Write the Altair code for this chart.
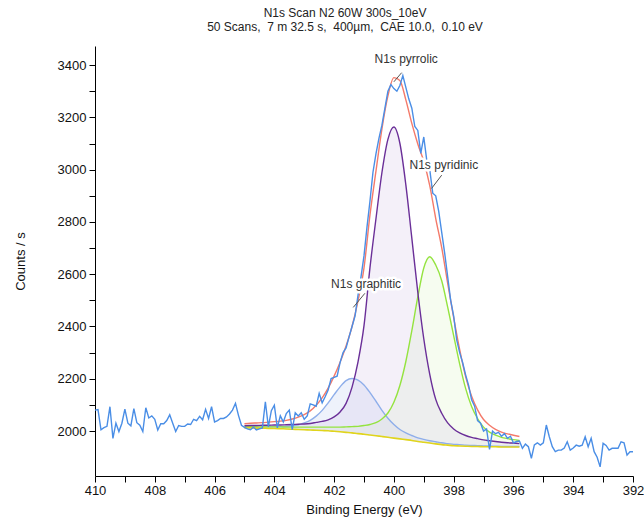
import altair as alt
import pandas as pd

FONT = "Liberation Sans"

# ---------------- data ----------------
# raw spectrum, 410.0 eV down to 392.0 eV, 0.1 eV steps
raw_counts = [
    2080, 2082, 2005, 2013, 2018, 2093, 1972, 2030, 1998, 2030,
    2084, 2030, 2020, 2086, 2032, 2022, 1998, 2089, 2050, 2058,
    2045, 2004, 2028, 2028, 2040, 2062, 2030, 1998, 2021, 2018,
    2018, 2027, 2025, 2045, 2040, 2056, 2043, 2083, 2048, 2093,
    2035, 2040, 2048, 2048, 2054, 2065, 2080, 2106, 2060, 2022,
    2014, 2008, 2005, 2015, 2004, 2008, 2012, 2112, 2016, 2078,
    2099, 2012, 2058, 2035, 2067, 2080, 2005, 2070, 2058, 2070,
    2045, 2058, 2104, 2100, 2095, 2144, 2108, 2131, 2157, 2201,
    2205, 2210, 2262, 2300, 2318, 2360, 2400, 2440, 2520, 2590,
    2670, 2780, 2880, 2990, 3060, 3120, 3170, 3235, 3300, 3325,
    3310, 3300, 3322, 3360, 3315, 3270, 3235, 3165, 3150, 3062,
    3125, 3036, 3000, 2910, 2900, 2840, 2760, 2680, 2590, 2500,
    2440, 2350, 2300, 2262, 2215, 2175, 2120, 2095, 2040, 2030,
    2000, 2008, 1930, 2000, 1990, 1995, 1980, 1990, 1972, 1980,
    1955, 1960, 1962, 1934, 1950, 1940, 1896, 1947, 1955, 1946,
    1955, 2023, 1978, 1940, 1921, 1927, 1927, 1935, 1959, 1927,
    1935, 1946, 1942, 1946, 1978, 1940, 1972, 1921, 1900, 1863,
    1953, 1945, 1927, 1934, 1934, 1934, 1959, 1955, 1908, 1921,
    1921,
]
raw_energy = [round(410.0 - 0.1 * i, 1) for i in range(len(raw_counts))]

# fitted region, 405.0 eV down to 395.8 eV, 0.2 eV steps
fit_energy = [round(405.0 - 0.2 * i, 1) for i in range(47)]
background = [
    2012, 2012, 2011, 2011, 2010, 2010, 2009, 2008, 2007, 2006,
    2005, 2004, 2003, 2002, 2001, 1999, 1997, 1995, 1993, 1990,
    1988, 1985, 1982, 1979, 1976, 1973, 1970, 1967, 1964, 1960,
    1957, 1954, 1951, 1948, 1946, 1944, 1943, 1942, 1941, 1941,
    1940, 1940, 1940, 1939, 1939, 1939, 1939,
]
# component heights above the background
graphitic = [
    4, 4, 5, 5, 6, 7, 8, 10, 13, 18,
    26, 37, 54, 77, 107, 140, 172, 198, 208, 205,
    188, 162, 132, 100, 73, 52, 36, 26, 19, 14,
    11, 9, 8, 7, 6, 5, 5, 4, 4, 3,
    3, 3, 2, 2, 2, 2, 2,
]
pyrrolic = [
    8, 9, 10, 11, 12, 13, 14, 16, 18, 20,
    22, 25, 30, 35, 42, 55, 76, 111, 175, 275,
    415, 640, 830, 1010, 1140, 1190, 1131, 975, 774, 571,
    396, 263, 170, 120, 85, 64, 50, 41, 35, 30,
    26, 23, 20, 18, 16, 15, 13,
]
pyridinic = [
    4, 5, 5, 5, 6, 6, 7, 7, 8, 9,
    10, 11, 12, 13, 14, 16, 18, 21, 24, 28,
    33, 40, 50, 67, 93, 137, 204, 299, 420, 553,
    667, 713, 684, 627, 528, 421, 314, 221, 153, 107,
    75, 56, 44, 37, 32, 28, 25,
]

# peak labels and their leader lines
label_text = ["N1s pyrrolic", "N1s pyridinic", "N1s graphitic"]
label_energy = [399.59, 398.33, 400.93]
label_counts = [3424, 3018, 2564]
leader_e1 = [399.74, 398.40, 400.97]
leader_c1 = [3371, 2979, 2527]
leader_e2 = [400.00, 398.74, 401.36]
leader_c2 = [3336, 2928, 2473]

NB = "\u00a0"
title_lines = ["N1s Scan N2 60W 300s_10eV",
               f"50 Scans,{NB} 7 m 32.5 s,{NB} 400\u00b5m,{NB} CAE 10.0,{NB} 0.10 eV"]

# ---------------- tables ----------------
raw_df = pd.DataFrame({"E": raw_energy, "C": raw_counts})
fit_df = pd.DataFrame({"E": fit_energy, "bg": background})
fit_df["env"] = [b + g + p + y for b, g, p, y in zip(background, graphitic, pyrrolic, pyridinic)]

comp_names = ["graphitic", "pyridinic", "pyrrolic"]
comp_vals = {"graphitic": graphitic, "pyridinic": pyridinic, "pyrrolic": pyrrolic}
comp_frames = []
for n in comp_names:
    comp_frames.append(pd.DataFrame({
        "E": fit_energy,
        "base": background,
        "top": [b + v for b, v in zip(background, comp_vals[n])],
        "comp": n,
    }))
comp_df = pd.concat(comp_frames, ignore_index=True)

labels_df = pd.DataFrame({"label": label_text, "E": label_energy, "C": label_counts})
lead_df = pd.DataFrame({"E1": leader_e1, "C1": leader_c1, "E2": leader_e2, "C2": leader_c2})

# ---------------- scales / axes ----------------
xs = alt.Scale(domain=[392, 410], reverse=True, zero=False, nice=False)
ys = alt.Scale(domain=[1828, 3473], zero=False, nice=False)

xaxis = alt.Axis(
    values=list(range(392, 411)),
    labelExpr="datum.value % 2 === 0 ? datum.label : ''",
    format="d", tickSize=6, tickColor="black", domainColor="black",
    labelColor="#111", labelFont=FONT, labelFontSize=13, labelPadding=2,
    labelFlush=False, labelOverlap=False,
    title="Binding Energy (eV)", titleFont=FONT, titleFontSize=13,
    titleFontWeight="normal", titleColor="#111", titlePadding=6, grid=False,
)
yaxis = alt.Axis(
    values=list(range(2000, 3401, 100)),
    labelExpr="datum.value % 200 === 0 ? datum.label : ''",
    format="d", tickSize=6, tickColor="black", domainColor="black",
    labelColor="#111", labelFont=FONT, labelFontSize=13, labelPadding=3,
    labelFlush=False, labelOverlap=False,
    title="Counts / s", titleFont=FONT, titleFontSize=13,
    titleFontWeight="normal", titleColor="#111", titlePadding=30, grid=False,
)

X = lambda f: alt.X(f, type="quantitative", scale=xs, axis=xaxis)
Y = lambda f: alt.Y(f, type="quantitative", scale=ys, axis=yaxis)

fill_colors = ["#c2d0f2", "#dcf3c6", "#d6c6e8"]
line_colors = ["#8eaeea", "#94e33f", "#6a2f98"]

fills = alt.Chart(comp_df).mark_area(interpolate="monotone", opacity=0.27).encode(
    x=X("E"), y=alt.Y("top:Q", scale=ys, axis=yaxis, stack=None), y2="base:Q",
    color=alt.Color("comp:N", scale=alt.Scale(domain=comp_names, range=fill_colors), legend=None),
    detail="comp:N",
)
comp_lines = alt.Chart(comp_df).mark_line(interpolate="monotone", strokeWidth=1.4).encode(
    x=X("E"), y=Y("top"),
    stroke=alt.Stroke("comp:N", scale=alt.Scale(domain=comp_names, range=line_colors), legend=None),
    detail="comp:N",
)
bg_line = alt.Chart(fit_df).mark_line(interpolate="monotone", color="#e0d41c", strokeWidth=1.6).encode(
    x=X("E"), y=Y("bg"))
env_line = alt.Chart(fit_df).mark_line(interpolate="monotone", color="#f47a6a", strokeWidth=1.4).encode(
    x=X("E"), y=Y("env"))
raw_line = alt.Chart(raw_df).mark_line(color="#4a8ee6", strokeWidth=1.4).encode(
    x=X("E"), y=Y("C"))

leaders = alt.Chart(lead_df).mark_rule(color="#555555", strokeWidth=1).encode(
    x=X("E1"), x2="E2:Q", y=Y("C1"), y2="C2:Q")
halo = alt.Chart(labels_df).mark_text(font=FONT, fontSize=12, fill="white", stroke="white",
                                      strokeWidth=5, strokeJoin="round").encode(
    x=X("E"), y=Y("C"), text="label:N")
labels = alt.Chart(labels_df).mark_text(font=FONT, fontSize=12, fill="#333333").encode(
    x=X("E"), y=Y("C"), text="label:N")

chart = alt.layer(
    fills, comp_lines, bg_line, env_line, raw_line, leaders, halo, labels
).resolve_scale(color="independent").properties(
    width=538, height=430,
    autosize=alt.AutoSizeParams(type="none"),
    padding={"left": 95, "top": 46, "right": 11, "bottom": 43},
    title=alt.TitleParams(text=title_lines, anchor="middle", frame="group", dx=-19,
                          font=FONT, fontSize=12, fontWeight="normal", color="#222222",
                          lineHeight=14, offset=12),
).configure_view(stroke=None)

chart.save("out.html", embed_options={"renderer": "svg", "actions": False})
